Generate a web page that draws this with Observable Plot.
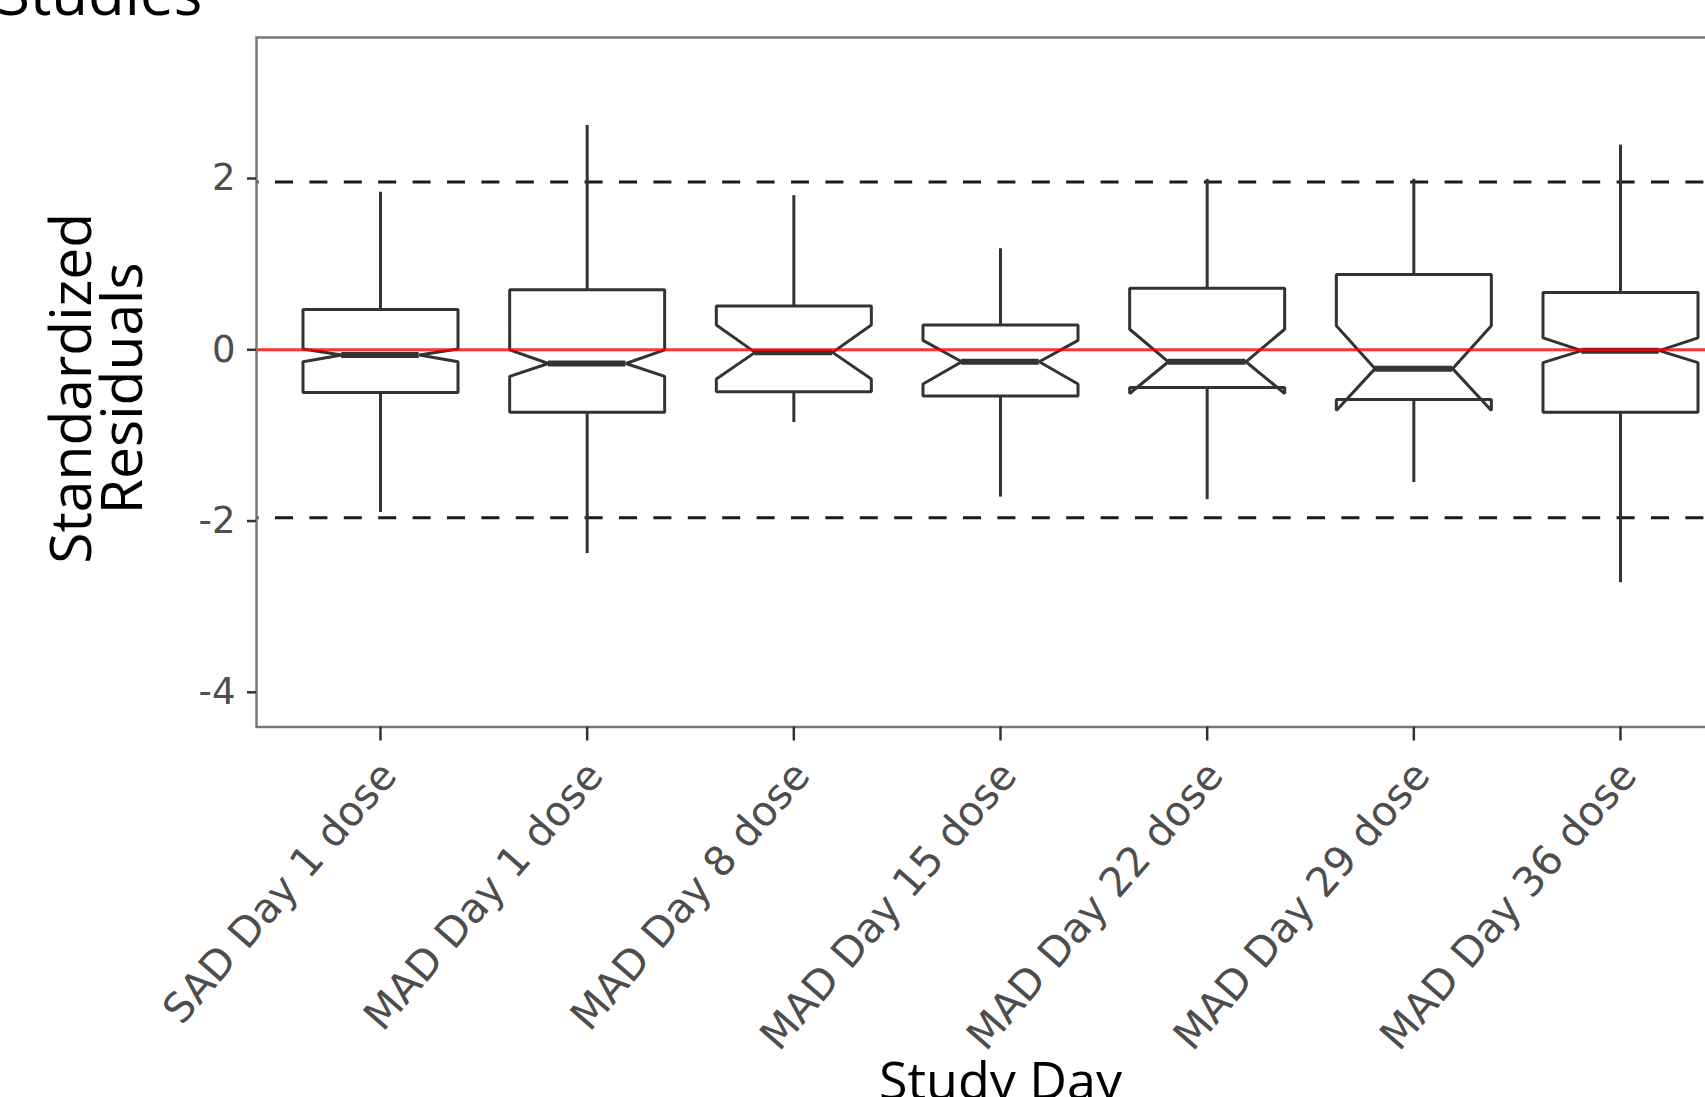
<!DOCTYPE html>
<html>
<head>
<meta charset="utf-8">
<script src="https://cdn.jsdelivr.net/npm/d3@7"></script>
<script src="https://cdn.jsdelivr.net/npm/@observablehq/plot@0.6"></script>
<style>
html, body { margin: 0; padding: 0; background: #fff; overflow: hidden; width: 1705px; height: 1097px; }
#wrap { position: relative; width: 1705px; height: 1097px; overflow: hidden; }
#chart { position: absolute; left: 0; top: 0; width: 1760px; }
#chart svg { max-width: none !important; display: block; }
#title { position: absolute; left: -3px; top: -38px; font-family: "Open Sans"; font-size: 60px; line-height: 60px; color: #000; white-space: nowrap; }
</style>
</head>
<body>
<div id="wrap">
  <div id="chart"></div>
  <div id="title">Studies</div>
</div>
<script>
// ---- data ----
const categories = ["SAD Day 1 dose", "MAD Day 1 dose", "MAD Day 8 dose", "MAD Day 15 dose", "MAD Day 22 dose", "MAD Day 29 dose", "MAD Day 36 dose"];
const whiskerLow  = [-1.90, -2.38, -0.85, -1.72, -1.75, -1.55, -2.72];
const q1          = [-0.50, -0.73, -0.49, -0.54, -0.44, -0.58, -0.73];
const notchLow    = [-0.14, -0.31, -0.34, -0.40, -0.51, -0.71, -0.15];
const median      = [-0.06, -0.16, -0.03, -0.14, -0.14, -0.22, -0.01];
const notchHigh   = [ 0.01,  0.00,  0.29,  0.11,  0.24,  0.28,  0.14];
const q3          = [ 0.47,  0.70,  0.51,  0.29,  0.72,  0.88,  0.67];
const whiskerHigh = [ 1.84,  2.62,  1.80,  1.18,  1.99,  1.99,  2.39];
const refLines = [-1.96, 1.96];
const zeroLine = [0];
const yTicks = [-4, -2, 0, 2];
const yTitle = "Standardized\nResiduals";
const xTitle = "Study Day";

// ---- derived tables ----
const idx = categories.map((_, i) => i);
const boxWidth = 0.75, notchWidth = 0.5;
const half = boxWidth / 2;
const indent = (1 - notchWidth) * boxWidth / 2;

const boxPts = [];
idx.forEach(i => {
  const c = i + 1;
  const pts = [
    [c - half, q3[i]], [c - half, notchHigh[i]], [c - half + indent, median[i]],
    [c - half, notchLow[i]], [c - half, q1[i]], [c + half, q1[i]],
    [c + half, notchLow[i]], [c + half - indent, median[i]], [c + half, notchHigh[i]],
    [c + half, q3[i]]
  ];
  pts.forEach(([x, y]) => boxPts.push({box: i, x, y}));
});

const dark = "#333333";
const plot = Plot.plot({
  width: 1760,
  height: 1120,
  marginLeft: 256,
  marginRight: 16,
  marginTop: 37,
  marginBottom: 393.5,
  style: { background: "white", fontFamily: "DejaVu Sans", maxWidth: "none", overflow: "visible" },
  x: { domain: [0.4, 7.6], axis: null },
  y: { domain: [-4.405, 3.647], axis: null },
  marks: [
    Plot.ruleY(refLines, { stroke: "#1a1a1a", strokeWidth: 3, strokeDasharray: "18,16.4", strokeDashoffset: 15.4 }),
    Plot.ruleX(idx, { x: i => i + 1, y1: i => q3[i], y2: i => whiskerHigh[i], stroke: dark, strokeWidth: 3 }),
    Plot.ruleX(idx, { x: i => i + 1, y1: i => q1[i], y2: i => whiskerLow[i], stroke: dark, strokeWidth: 3 }),
    Plot.line(boxPts, { x: "x", y: "y", z: "box", curve: "linear-closed", stroke: dark, strokeWidth: 3, strokeLinejoin: "miter", fill: "none" }),
    Plot.ruleY(idx, { y: i => median[i], x1: i => i + 1 - half + indent, x2: i => i + 1 + half - indent, stroke: dark, strokeWidth: 6 }),
    Plot.ruleY(zeroLine, { stroke: "red", strokeWidth: 3, strokeOpacity: 0.8 }),
    Plot.frame({ stroke: "#777777", strokeWidth: 2.5 }),
    Plot.axisY({ ticks: yTicks, tickSize: 9, tickPadding: 12, tickFormat: d => String(d), fontSize: 37, fontFamily: "DejaVu Sans", fill: "#4d4d4d", stroke: dark, strokeWidth: 2.5, label: null }),
    Plot.axisX({ ticks: idx.map(i => i + 1), tickSize: 14, tickFormat: () => "", stroke: dark, strokeWidth: 2.5, label: null }),
    Plot.text(categories, { x: (d, i) => i + 1, frameAnchor: "bottom", rotate: -49, textAnchor: "end", lineAnchor: "bottom", dx: 18, dy: 50, fontSize: 41, fontFamily: "DejaVu Sans", fill: "#4d4d4d" }),
    Plot.text([yTitle], { frameAnchor: "left", dx: -156, dy: 6, rotate: -90, textAnchor: "middle", lineAnchor: "middle", fontSize: 57, lineHeight: 0.88, fontFamily: "Open Sans", fill: "#000" }),
    Plot.text([xTitle], { frameAnchor: "bottom", dy: 355, textAnchor: "middle", lineAnchor: "middle", fontSize: 52, fontFamily: "Open Sans", fill: "#000" })
  ]
});
document.getElementById("chart").appendChild(plot);
</script>
</body>
</html>
